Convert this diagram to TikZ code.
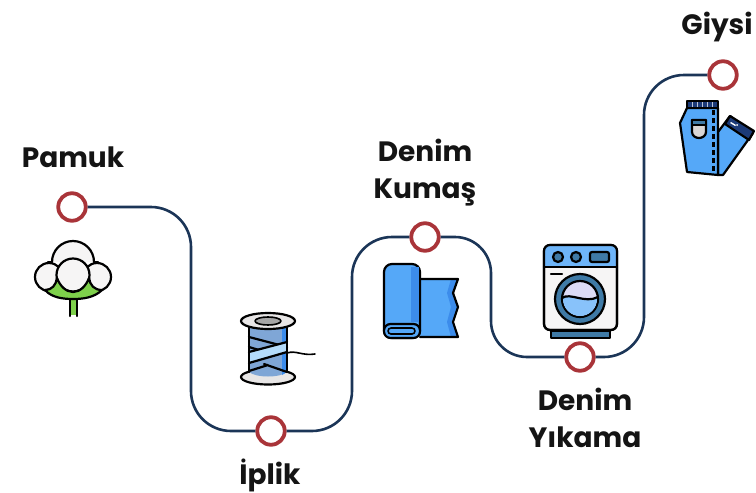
\documentclass[tikz,border=0pt]{standalone}
\usepackage{fontspec}
\setmainfont{Poppins}
\definecolor{route}{HTML}{1B3557}
\definecolor{ring}{HTML}{A93439}
\definecolor{jeanblue}{HTML}{55A8F8}
\definecolor{jeandark}{HTML}{3C8CEB}
\definecolor{navy}{HTML}{1C3A78}
\definecolor{leaf}{HTML}{7ED04B}
\definecolor{cottonw}{HTML}{F6F5F5}
\definecolor{steel}{HTML}{3F7AA6}
\definecolor{paleblue}{HTML}{B5DCFB}
\definecolor{midblue}{HTML}{7FA6D6}
\definecolor{greyd}{HTML}{D9D6D6}
\tikzset{
  routeline/.style={draw=route,line width=2.6pt,rounded corners=40pt},
  stopmark/.style={circle,draw=ring,line width=3.8pt,fill=white,minimum size=27.5pt,inner sep=0pt},
  lbl/.style={font=\fontsize{28}{37}\selectfont\bfseries,text=black!92,align=center,inner sep=0pt},
  ic/.style={draw=black,line width=2.2pt,line join=round,line cap=round}
}
\begin{document}
\begin{tikzpicture}[x=1pt,y=-1pt]
\useasboundingbox (0,0) rectangle (756,493);
% route and stops
\node[stopmark] (n1) at (72,207) {};
\node[stopmark] (n2) at (271,431) {};
\node[stopmark] (n3) at (425,237) {};
\node[stopmark] (n4) at (580,357) {};
\node[stopmark] (n5) at (723,75) {};
\coordinate (c1) at (191,431);
\coordinate (c2) at (352,237);
\coordinate (c3) at (491,357);
\coordinate (c4) at (644,75);
\draw[routeline] (n1.east) -| (c1) -- (n2.west);
\draw[routeline] (n2.east) -| (c2) -- (n3.west);
\draw[routeline,rounded corners=36pt] (n3.east) -| (c3) -- (n4.west);
\draw[routeline] (n4.east) -| (c4) -- (n5.west);
% labels
\node[lbl] (t1) at (73,157) {Pamuk};
\node[lbl] (t2) at (270,475) {İplik};
\node[lbl] (t3) at (425,173) {Denim\\Kumaş};
\node[lbl] (t4) at (585,418) {Denim\\Yıkama};
\node[lbl] (t5) at (717,27) {Giysi};
% cotton
\draw[ic,fill=cottonw] (49,277) circle[radius=14];
\draw[ic,fill=cottonw] (97,277) circle[radius=14];
\fill[cottonw] (52,262) arc[start angle=180,end angle=360,radius=21] -- cycle;
\draw[ic] (52,262) arc[start angle=180,end angle=360,radius=21];
\draw[ic] (48,262) -- (52,262) (94,262) -- (98,262);
\draw[ic,fill=cottonw] (73,275) circle[radius=16.5];
\fill[leaf] (70,298) rectangle (77,315);
\draw[ic] (70,298) -- (70,316) (77,298) -- (77,316);
\draw[ic,fill=leaf] (45,290) .. controls (52,290) and (56,285) .. (57,278) .. controls (60,286) and (66,292) .. (73,292) .. controls (80,292) and (86,286) .. (89,278) .. controls (90,285) and (94,290) .. (102,290) .. controls (94,298) and (82,299) .. (73,299) .. controls (64,299) and (52,298) .. (45,290) -- cycle;
% spool
\draw[ic,fill=greyd!60] (268,377) ellipse[x radius=27,y radius=7.5];
\fill[midblue] (249,322) -- (287,322) -- (287,372) .. controls (280,378) and (256,378) .. (249,372) -- cycle;
\fill[jeandark] (282,322) -- (287,322) -- (287,372) -- (282,375) -- cycle;
\draw[ic] (249,337) -- (287,347) (249,347) -- (259,350) (264,364) -- (287,372) (249,371) -- (268,365);
\fill[paleblue] (249,352) -- (287,342) -- (287,352) -- (249,363) -- cycle;
\draw[ic] (249,352) -- (287,342) (249,363) -- (287,352);
\draw[ic] (249,322) -- (249,372) (287,322) -- (287,372);
\draw[ic,line width=1.6pt] (287,353) .. controls (296,350) and (302,356) .. (315,354);
\draw[ic,fill=greyd!60] (268,321) ellipse[x radius=27,y radius=8];
\draw[ic,fill=gray!70,line width=1.6pt] (268,321) ellipse[x radius=13,y radius=4];
% fabric
\fill[jeanblue] (420,279) -- (458,279) -- (453,293) -- (458,307) -- (453,322) -- (458,337) -- (420,337) -- cycle;
\fill[jeandark] (458,279) -- (453,293) -- (458,307) -- (453,322) -- (458,337) -- (451,337) -- (447,322) -- (451,307) -- (447,293) -- (451,279) -- cycle;
\draw[ic] (420,279) -- (458,279) -- (453,293) -- (458,307) -- (453,322) -- (458,337) -- (420,337);
\draw[ic,fill=jeanblue] (384,330) -- (384,272) [rounded corners=8pt] -- (384,264) -- (420,264) -- (420,338) -- (384,338) [sharp corners] -- cycle;
\fill[jeandark] (411,267) rectangle (418.8,322);
\draw[ic,fill=jeanblue,rounded corners=6.5pt] (384,324) rectangle (420,338);
\draw[ic,rounded corners=3pt,line width=1.6pt] (388,328) rectangle (415,334);
% washer
\draw[ic,fill=steel] (551,331) rectangle (610,338);
\draw[ic,fill=cottonw,rounded corners=6pt] (544,245) rectangle (617,330);
\begin{scope}
\clip[rounded corners=6pt] (544,245) rectangle (617,330);
\fill[jeanblue!85!white] (544,245) rectangle (617,267);
\end{scope}
\draw[ic] (544,267) -- (617,267);
\draw[ic,rounded corners=6pt] (544,245) rectangle (617,330);
\draw[ic,fill=steel] (558,257) circle[radius=5];
\draw[ic,fill=steel] (576,257) circle[radius=5];
\draw[ic,fill=steel,rounded corners=2pt] (590,252) rectangle (609,262);
\draw[ic] (551,274) -- (562,274);
\draw[ic,fill=steel] (580,299) circle[radius=25];
\draw[ic,fill=cottonw!90!blue] (580,299) circle[radius=18];
\begin{scope}
\clip (580,299) circle[radius=17];
\fill[jeanblue!70!white] (560,298) .. controls (570,292) and (585,304) .. (600,297) -- (600,320) -- (560,320) -- cycle;
\end{scope}
\draw[ic] (562,298) .. controls (570,292) and (585,304) .. (598,297);
% jeans
\draw[ic,fill=jeanblue] (718,132) -- (730,116) -- (753,133) -- (723,175) -- (718,175) -- cycle;
\draw[ic,fill=navy] (730,116) -- (754,131) -- (749,140) -- (725,124) -- cycle;
\fill[white] (731,122) -- (736,125) -- (735,126) -- (730,123) -- cycle (737,125) circle[radius=1];
\draw[ic,fill=jeanblue] (687,108) -- (680,123) -- (687,172) -- (718,175) -- (718,108) -- cycle;
\draw[ic,fill=navy] (687,101) rectangle (718,108);
\draw[white!70!navy,line width=1pt] (692,102) -- (692,107) (697,102) -- (697,107) (702,102) -- (702,107) (707,102) -- (707,107) (712,102) -- (712,107);
\draw[black,line width=3pt,dash pattern=on 5pt off 3pt] (713,110) -- (713,174);
\draw[ic,fill=greyd] (692,120) -- (706,120) -- (706,132) .. controls (706,136) and (702,138) .. (699,138) .. controls (696,138) and (692,136) .. (692,132) -- cycle;
\draw[ic,fill=steel] (692,120) rectangle (706,125);
\end{tikzpicture}
\end{document}
